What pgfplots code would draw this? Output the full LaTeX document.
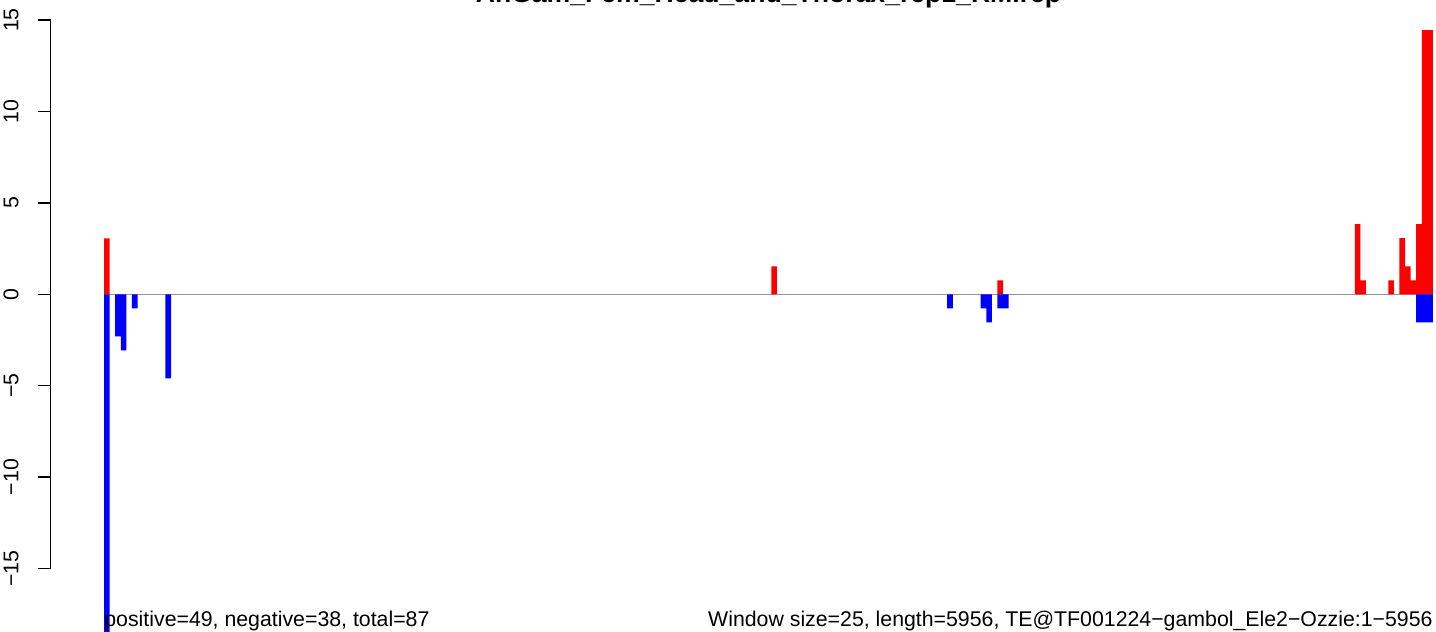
\documentclass[border=0pt]{standalone}
\usepackage{fontspec}
\setmainfont{Liberation Sans}
\usepackage{pgfplots}
\pgfplotsset{compat=1.18}
\definecolor{zeroline}{RGB}{150,150,150}

% window index (bar centre) and score
\pgfplotstableread{
x y
0.5 3.06
120 1.53
160.5 0.77
224.5 3.84
225.5 0.77
230.5 0.77
232.5 3.07
233.5 1.53
234.5 0.77
235.5 3.84
236.5 14.45
237.5 14.45
}\posdata
\pgfplotstableread{
x y
0.5 -18.6
2.5 -2.3
3.5 -3.07
5.5 -0.77
11.5 -4.6
151.5 -0.77
157.5 -0.77
158.5 -1.53
160.5 -0.77
161.5 -0.77
235.5 -1.53
236.5 -1.53
237.5 -1.53
}\negdata

\begin{document}
\begin{tikzpicture}
\begin{axis}[
    at={(0,0)}, anchor=south west,
    scale only axis, width=718pt, height=316pt,
    xmin=-18.625, xmax=238.54,
    ymin=-18.47, ymax=16.10,
    hide axis,
  ]
  \addplot[zeroline, line width=0.8pt] coordinates {(0,0) (238,0)};
  \addplot[ybar, bar width=1, bar shift=0pt, fill=red, draw=none] table {\posdata};
  \addplot[ybar, bar width=1, bar shift=0pt, fill=blue, draw=none] table {\negdata};
\end{axis}
% pixel-like coordinates: x right, y down from the top edge
\begin{scope}[x=0.5pt, y=-0.5pt, shift={(0,316pt)}]
  \draw[line width=0.7pt] (50.5,20.1) -- (50.5,568.5);
  \foreach \yy/\lab in {20.1/15, 111.5/10, 202.9/5, 294.3/0, 385.7/−5, 477.1/−10, 568.5/−15} {
    \draw[line width=0.7pt] (38,\yy) -- (50.5,\yy);
    \node[rotate=90, anchor=base, inner sep=0, font=\fontsize{10.65}{12}\selectfont] at (18.5,\yy) {\lab};
  }
  % the title sits mostly above the top edge, as in the reference
  \node[anchor=base, inner sep=0, font=\bfseries\fontsize{13.3}{16}\selectfont] at (768.5,3) {AnGam\_Fem\_Head\_and\_Thorax\_rep1\_RM.rep};
  \node[anchor=base west, inner sep=0, font=\fontsize{10.65}{12}\selectfont] at (104,627) {positive=49, negative=38, total=87};
  \node[anchor=base east, inner sep=0, font=\fontsize{10.65}{12}\selectfont] at (1433,627) {Window size=25, length=5956, TE@TF001224−gambol\_Ele2−Ozzie:1−5956};
\end{scope}
\pgfresetboundingbox
\useasboundingbox (0,0) rectangle (718pt,316pt);
\end{tikzpicture}
\end{document}
